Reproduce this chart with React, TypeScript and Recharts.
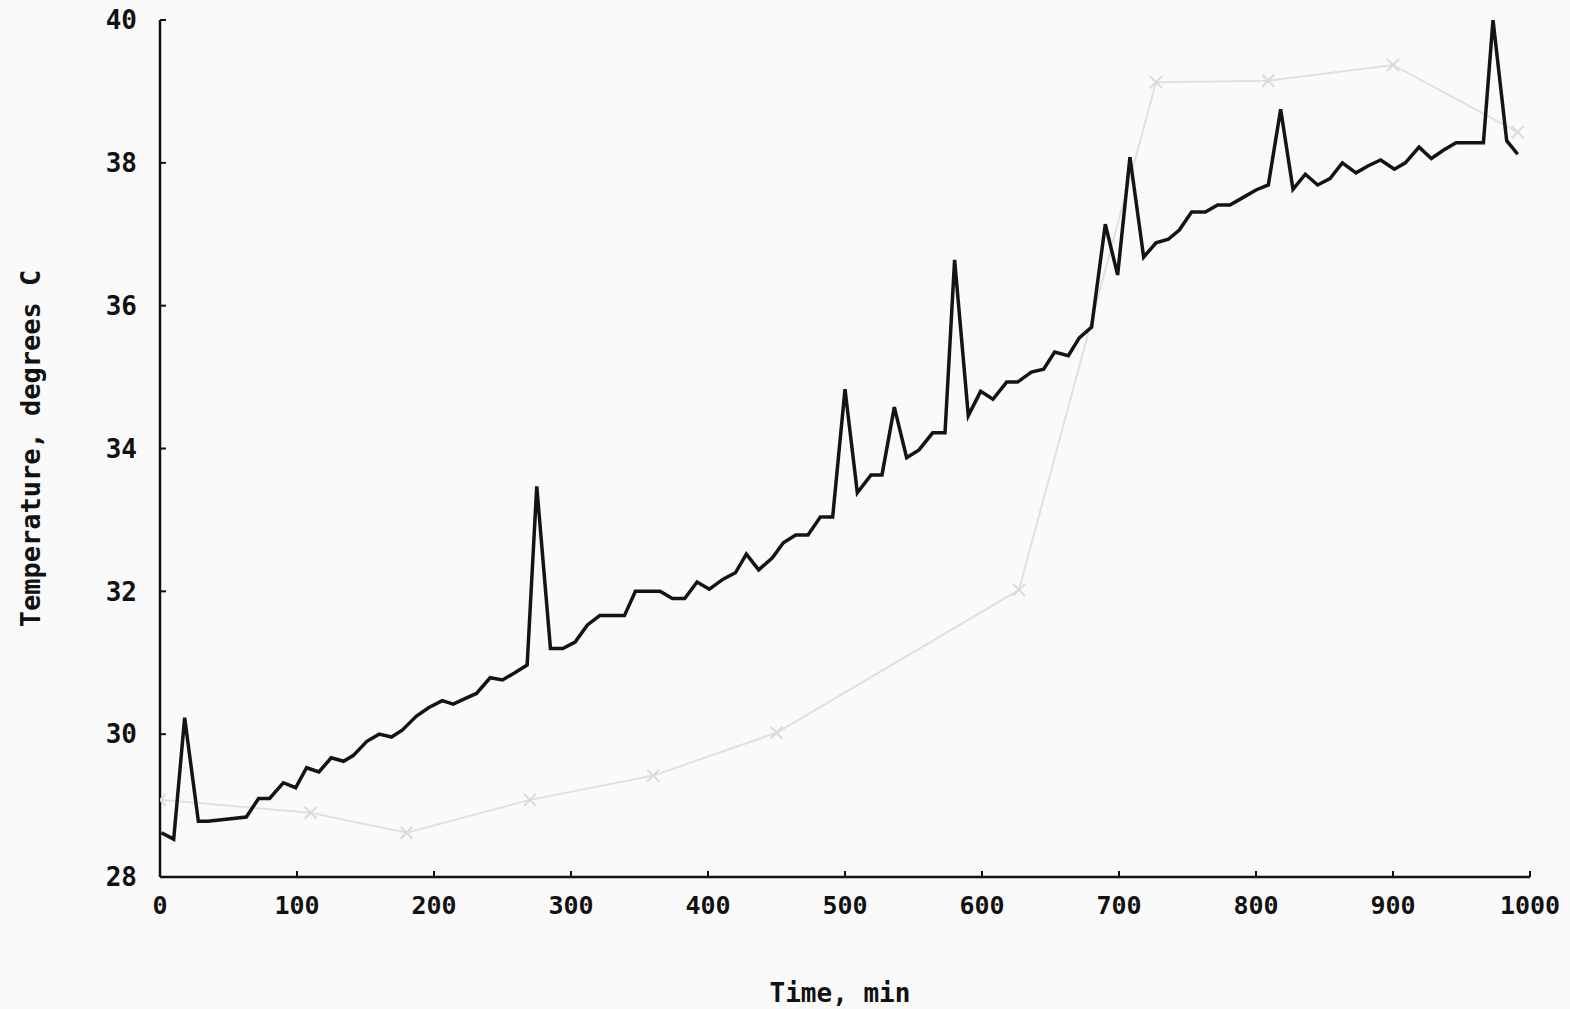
import React from 'react';
import { LineChart, Line, XAxis, YAxis, Label } from 'recharts';

// measured trace (black)
const measuredTime = [
  1, 10, 18, 28, 35, 63, 72, 80, 90, 99,
  107, 116, 125, 134, 141, 151, 160, 169, 177, 187,
  196, 206, 214, 223, 231, 241, 250, 259, 268, 275,
  285, 294, 303, 312, 321, 339, 347, 365, 374, 383,
  392, 401, 411, 420, 428, 437, 447, 455, 464, 473,
  482, 491, 500, 509, 519, 527, 536, 545, 554, 564,
  573, 580, 590, 599, 608, 618, 626, 636, 645, 653,
  663, 671, 680, 690, 699, 708, 718, 727, 736, 744,
  753, 763, 772, 781, 791, 800, 809, 818, 827, 836,
  845, 854, 863, 873, 882, 891, 901, 909, 919, 928,
  937, 946, 966, 973, 983, 991,
];
const measuredTemp = [
  28.62, 28.53, 30.23, 28.78, 28.78, 28.84, 29.1, 29.1, 29.32, 29.25,
  29.53, 29.47, 29.67, 29.62, 29.7, 29.9, 30.0, 29.96, 30.06, 30.25,
  30.37, 30.47, 30.42, 30.5, 30.57, 30.79, 30.76, 30.86, 30.97, 33.47,
  31.2, 31.2, 31.29, 31.53, 31.66, 31.66, 32.0, 32.0, 31.9, 31.9,
  32.13, 32.03, 32.17, 32.26, 32.52, 32.3, 32.47, 32.68, 32.79, 32.79,
  33.04, 33.04, 34.83, 33.38, 33.63, 33.63, 34.58, 33.87, 33.98, 34.22,
  34.22, 36.64, 34.46, 34.8, 34.69, 34.93, 34.93, 35.07, 35.11, 35.35,
  35.3, 35.55, 35.7, 37.14, 36.43, 38.08, 36.68, 36.88, 36.93, 37.06,
  37.31, 37.31, 37.41, 37.41, 37.52, 37.62, 37.69, 38.75, 37.63, 37.84,
  37.69, 37.78, 38.0, 37.86, 37.96, 38.04, 37.91, 38.0, 38.22, 38.06,
  38.18, 38.28, 38.28, 40.0, 38.31, 38.12,
];

// faint reference trace with x markers
const refTime = [0, 110, 180, 270, 360, 450, 627, 727, 809, 900, 991];
const refTemp = [29.08, 28.9, 28.62, 29.08, 29.42, 30.02, 32.02, 39.13, 39.15, 39.37, 38.43];

const xTicks = [0, 100, 200, 300, 400, 500, 600, 700, 800, 900, 1000];
const yTicks = [28, 30, 32, 34, 36, 38, 40];

const measured = measuredTime.map((t, i) => ({ t, v: measuredTemp[i] }));
const reference = refTime.map((t, i) => ({ t, v: refTemp[i] }));

const FONT = '"DejaVu Sans Mono", monospace';

const CrossDot = (props: any) => {
  const { cx, cy } = props;
  if (cx == null || cy == null) return null;
  const s = 6;
  return (
    <g stroke="#dadada" strokeWidth={2}>
      <line x1={cx - s} y1={cy - s} x2={cx + s} y2={cy + s} />
      <line x1={cx - s} y1={cy + s} x2={cx + s} y2={cy - s} />
    </g>
  );
};

export default function App() {
  return (
    <div style={{ position: 'absolute', left: 0, top: 0, width: 1570, height: 1009, background: '#fafafa' }}>
      <LineChart width={1570} height={1009} margin={{ top: 20, right: 40, bottom: 0, left: 0 }}>
        <XAxis
          dataKey="t"
          type="number"
          domain={[0, 1000]}
          ticks={xTicks}
          height={132}
          axisLine={{ stroke: '#111', strokeWidth: 2.5 }}
          tickLine={{ stroke: '#111', strokeWidth: 2 }}
          tickSize={-6}
          tickMargin={25}
          tick={{ fontFamily: FONT, fontWeight: 'bold', fontSize: 25, fill: '#111' }}
          allowDataOverflow
        >
          <Label
            value="Time, min"
            position="center"
            dx={-5}
            dy={50}
            style={{ fontFamily: FONT, fontWeight: 'bold', fontSize: 26, fill: '#111' }}
          />
        </XAxis>
        <XAxis xAxisId="top" orientation="top" type="number" domain={[0, 1000]} height={0} tick={false} tickLine={false} axisLine={{ stroke: '#111', strokeWidth: 2.5 }} />
        <YAxis
          type="number"
          domain={[28, 40]}
          ticks={yTicks}
          width={160}
          axisLine={{ stroke: '#111', strokeWidth: 2.5 }}
          tickLine={{ stroke: '#111', strokeWidth: 2 }}
          tickSize={-6}
          tickMargin={29}
          tick={{ fontFamily: FONT, fontWeight: 'bold', fontSize: 26, fill: '#111' }}
          allowDataOverflow
        >
          <Label
            value="Temperature, degrees C"
            position="center"
            angle={-90}
            dx={-50}
            style={{ fontFamily: FONT, fontWeight: 'bold', fontSize: 27, fill: '#111', textAnchor: 'middle' }}
          />
        </YAxis>
        <YAxis yAxisId="right" orientation="right" type="number" domain={[28, 40]} width={0} tick={false} tickLine={false} axisLine={{ stroke: '#111', strokeWidth: 2.5 }} />
        <Line
          data={reference}
          dataKey="v"
          type="linear"
          stroke="#e0e0e0"
          strokeWidth={2}
          dot={<CrossDot />}
          activeDot={false}
          isAnimationActive={false}
        />
        <Line
          data={measured}
          dataKey="v"
          type="linear"
          stroke="#141414"
          strokeWidth={3.5}
          strokeLinejoin="miter"
          dot={false}
          activeDot={false}
          isAnimationActive={false}
        />
      </LineChart>
    </div>
  );
}
